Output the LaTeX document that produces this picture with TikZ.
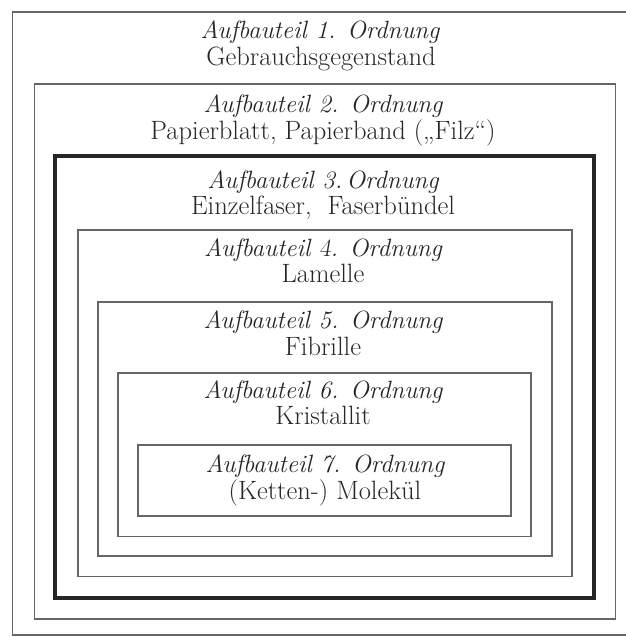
\documentclass[tikz,border=0pt]{standalone}
\begin{document}
\begin{tikzpicture}[x=1pt,y=-1pt,
  thinbox/.style={draw=black!60,line width=1.3pt},
  thickbox/.style={draw=black!85,line width=3.6pt},
  ital/.style={anchor=base,inner sep=0pt,text=black!85,font=\fontsize{25}{29}\selectfont\itshape},
  rom/.style={anchor=base,inner sep=0pt,text=black!85,font=\fontsize{26.5}{30}\selectfont}]
\useasboundingbox[fill=white] (0,0) rectangle (626,637);
\draw[thinbox]  (12.5,12) rectangle (632,635);
\draw[thinbox]  (34.5,84) rectangle (615.5,619);
\draw[thickbox] (55,156) rectangle (594,598);
\draw[thinbox]  (78,230) rectangle (572,576.5);
\draw[thinbox]  (98,302) rectangle (552,556);
\draw[thinbox]  (118,373) rectangle (531,536.5);
\draw[thinbox]  (138,445) rectangle (511,516);
\node[ital] (t1) at (320,38) {Aufbauteil 1. Ordnung};
\node[rom]  (n1) at (321,65) {Gebrauchsgegenstand};
\node[ital] (t2) at (323,112) {Aufbauteil 2. Ordnung};
\node[rom]  (n2) at (323,139) {Papierblatt, Papierband (,,Filz``)};
\node[ital] (t3) at (323,188) {Aufbauteil 3.\,Ordnung};
\node[rom]  (n3) at (323,214) {Einzelfaser,\ \ Faserbündel};
\node[ital] (t4) at (323,256) {Aufbauteil \textsl{4}. Ordnung};
\node[rom]  (n4) at (323,282) {Lamelle};
\node[ital] (t5) at (323,328) {Aufbauteil 5. Ordnung};
\node[rom]  (n5) at (323,355) {Fibrille};
\node[ital] (t6) at (323,398) {Aufbauteil 6. Ordnung};
\node[rom]  (n6) at (323,424) {Kristallit};
\node[ital] (t7) at (325,472) {Aufbauteil 7. Ordnung};
\node[rom]  (n7) at (325,499) {(Ketten-) Molekül};
\end{tikzpicture}
\end{document}
